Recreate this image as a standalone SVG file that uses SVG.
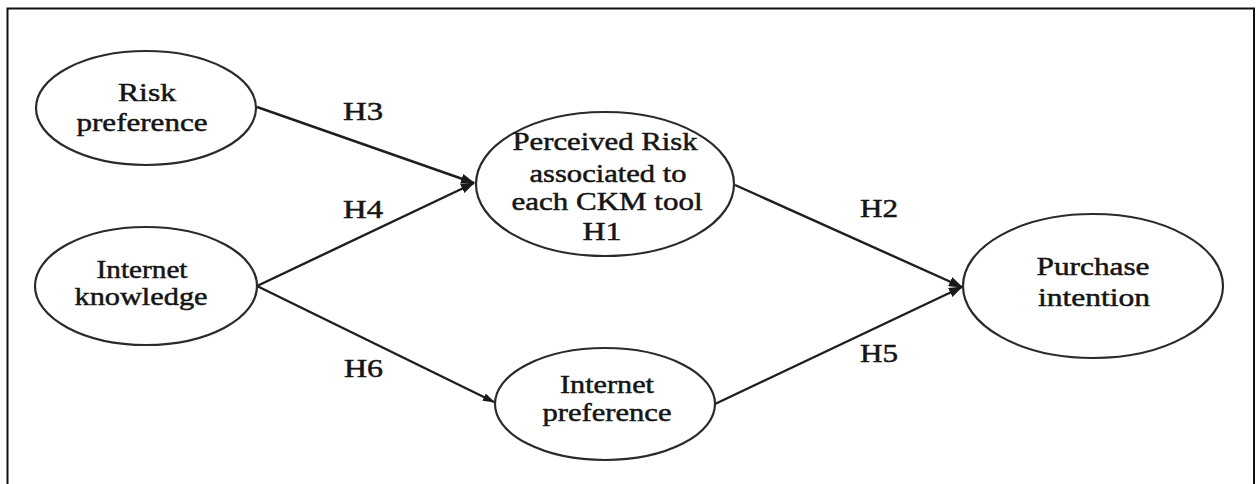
<svg xmlns="http://www.w3.org/2000/svg" width="1256" height="484" viewBox="0 0 1256 484">
<style>
.frame{fill:none;stroke:#111;stroke-width:2}
.node ellipse{fill:#fff;stroke:#2a2a2a;stroke-width:2.2}
text{font-family:"Liberation Serif","Times New Roman",serif;font-size:26px;fill:#151515;stroke:#151515;stroke-width:0.5;text-anchor:middle}
.lbl{text-anchor:start}
.edge{stroke:#1e1e1e;stroke-width:2.4;fill:none;marker-end:url(#ah)}
.edge.sm{marker-end:url(#ahs)}
</style>
<defs>
<marker id="ah" markerUnits="userSpaceOnUse" viewBox="0 0 14 10" refX="13" refY="5" markerWidth="14" markerHeight="10" orient="auto">
<path d="M0,0 L14,5 L0,10 Z" fill="#1a1a1a"/>
</marker>
<marker id="ahs" markerUnits="userSpaceOnUse" viewBox="0 0 12 8" refX="11" refY="4" markerWidth="12" markerHeight="8" orient="auto">
<path d="M0,0 L12,4 L0,8 Z" fill="#1a1a1a"/>
</marker>
</defs>
<rect width="1256" height="484" fill="#fff"/>
<rect class="frame" x="7.5" y="8.5" width="1246.5" height="500"/>
<g id="connectors">
<line class="edge" x1="257" y1="107" x2="474" y2="183"/>
<line class="edge" x1="257" y1="286" x2="474" y2="183"/>
<line class="edge sm" x1="257" y1="286" x2="494" y2="402"/>
<line class="edge" x1="735" y1="185" x2="962" y2="287"/>
<line class="edge" x1="715" y1="404" x2="962" y2="287"/>
<text class="lbl" x="343" y="120" textLength="40" lengthAdjust="spacingAndGlyphs">H3</text>
<text class="lbl" x="343" y="218" textLength="40" lengthAdjust="spacingAndGlyphs">H4</text>
<text class="lbl" x="344" y="377" textLength="39" lengthAdjust="spacingAndGlyphs">H6</text>
<text class="lbl" x="860" y="217" textLength="38" lengthAdjust="spacingAndGlyphs">H2</text>
<text class="lbl" x="860" y="362" textLength="38" lengthAdjust="spacingAndGlyphs">H5</text>
</g>
<g id="risk-preference" class="node">
<ellipse cx="146" cy="108" rx="110" ry="57"/>
<text x="147" y="101" textLength="58" lengthAdjust="spacingAndGlyphs">Risk</text>
<text x="142" y="131" textLength="131" lengthAdjust="spacingAndGlyphs">preference</text>
</g>
<g id="internet-knowledge" class="node">
<ellipse cx="146" cy="286" rx="111" ry="59"/>
<text x="142" y="278" textLength="91" lengthAdjust="spacingAndGlyphs">Internet</text>
<text x="141" y="305" textLength="133" lengthAdjust="spacingAndGlyphs">knowledge</text>
</g>
<g id="perceived-risk" class="node">
<ellipse cx="605" cy="184" rx="129" ry="72"/>
<text x="605" y="150" textLength="185" lengthAdjust="spacingAndGlyphs">Perceived Risk</text>
<text x="608" y="182" textLength="157" lengthAdjust="spacingAndGlyphs">associated to</text>
<text x="607" y="210" textLength="191" lengthAdjust="spacingAndGlyphs">each CKM tool</text>
<text x="602" y="240" textLength="39" lengthAdjust="spacingAndGlyphs">H1</text>
</g>
<g id="internet-preference" class="node">
<ellipse cx="605" cy="404" rx="110" ry="56"/>
<text x="607" y="393" textLength="94" lengthAdjust="spacingAndGlyphs">Internet</text>
<text x="607" y="421" textLength="129" lengthAdjust="spacingAndGlyphs">preference</text>
</g>
<g id="purchase-intention" class="node">
<ellipse cx="1093" cy="286" rx="130" ry="72"/>
<text x="1093" y="275" textLength="113" lengthAdjust="spacingAndGlyphs">Purchase</text>
<text x="1094" y="306" textLength="112" lengthAdjust="spacingAndGlyphs">intention</text>
</g>
</svg>
